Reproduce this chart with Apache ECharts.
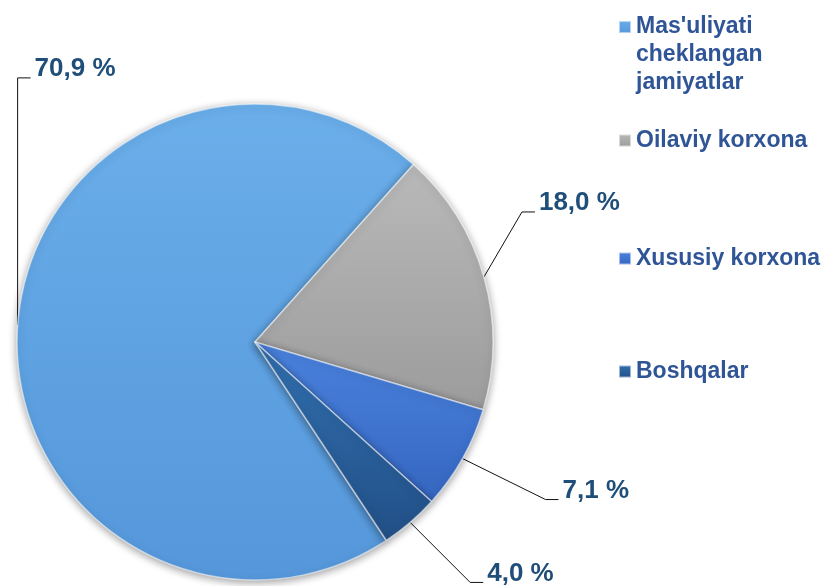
<!DOCTYPE html>
<html>
<head>
    <meta charset="utf-8">
    <title>Korxonalar tarkibi</title>
    <script src="https://cdn.jsdelivr.net/npm/echarts@6/dist/echarts.min.js"></script>
</head>
<body style="margin:0;background-color:#fff;">
    <div id="main" style="width:829px;height:586px;"></div>
    <script type="text/javascript">
        // kategoriyalar va ulushlar (%)
        var names = ["Mas'uliyati cheklangan jamiyatlar", 'Oilaviy korxona', 'Xususiy korxona', 'Boshqalar'];
        var values = [70.9, 18.0, 7.1, 4.0];
        var colors = [['#6aaeea', '#5597da'], ['#b9b9b9', '#9c9c9c'], ['#4a82de', '#3566c0'], ['#3170b0', '#224f86']];

        // leader line bend, measured from its start on the rim
        var bends = [[0, -247], [38, -65], [83, 41], [60, 60]];
        var legendTops = [-43, 128, 246, 359];

        var myChart = echarts.init(document.getElementById('main'));

        var data = names.map(function (n, i) {
            return {
                name: n,
                value: values[i],
                itemStyle: {
                    color: {
                        type: 'linear', x: 0, y: 0, x2: 0, y2: 1,
                        colorStops: [{ offset: 0, color: colors[i][0] }, { offset: 1, color: colors[i][1] }]
                    }
                }
            };
        });

        var legends = names.map(function (n, i) {
            return {
                data: [n],
                left: 618,
                top: legendTops[i],
                padding: 0,
                icon: 'rect',
                itemWidth: 12,
                itemHeight: 12,
                selectedMode: false,
                formatter: function (name) {
                    // birinchi nom uch qatorda, belgisi birinchi qator yonida
                    return i === 0 ? '\n\n' + name.replace(/ /g, '\n') : name;
                },
                textStyle: {
                    fontFamily: 'Arial',
                    fontSize: 23,
                    fontWeight: 'bold',
                    color: '#2f5597',
                    lineHeight: i === 0 ? 28 : 25
                }
            };
        });

        var option = {
            animation: false,
            legend: legends,
            series: [
                {
                    type: 'pie',
                    center: [255, 342],
                    radius: 238,
                    startAngle: 303.5,
                    clockwise: true,
                    avoidLabelOverlap: false,
                    data: data,
                    itemStyle: {
                        borderColor: 'rgba(255,255,255,0.55)',
                        borderWidth: 1.5,
                        shadowBlur: 8,
                        shadowColor: 'rgba(0,0,0,0.4)',
                        shadowOffsetY: 2
                    },
                    label: {
                        show: true,
                        fontFamily: 'Arial',
                        fontSize: 26,
                        fontWeight: 'bold',
                        color: '#1f4e79',
                        formatter: function (p) {
                            return values[p.dataIndex].toFixed(1).replace('.', ',') + ' %';
                        }
                    },
                    labelLine: {
                        show: true,
                        length: 20,
                        length2: 12,
                        lineStyle: { color: '#111', width: 1 }
                    },
                    labelLayout: function (p) {
                        var s = p.labelLinePoints[0];
                        var b = bends[p.dataIndex];
                        var bx = s[0] + b[0], by = s[1] + b[1];
                        return {
                            x: bx + 17,
                            y: by - 9,
                            align: 'left',
                            verticalAlign: 'middle',
                            labelLinePoints: [s, [bx, by], [bx + 13, by]]
                        };
                    },
                    emphasis: { disabled: true }
                }
            ]
        };
        myChart.setOption(option);
    </script>
</body>
</html>
